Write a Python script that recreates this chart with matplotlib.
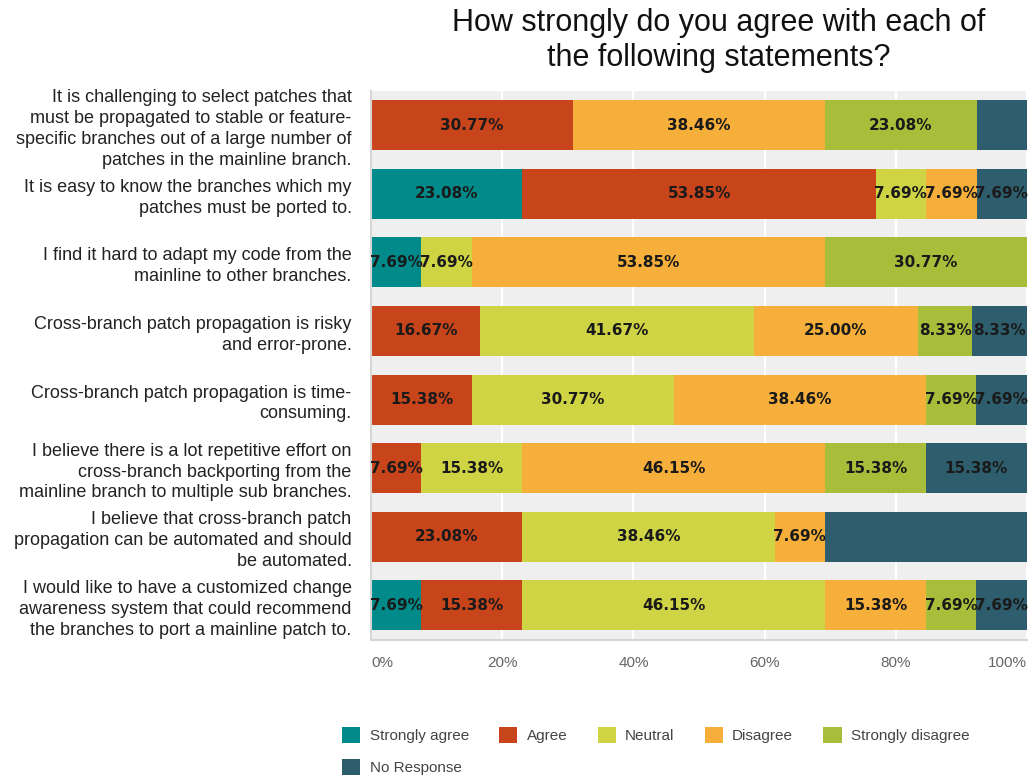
import matplotlib
matplotlib.use("Agg")
import matplotlib.pyplot as plt
from matplotlib.patches import Patch
import numpy as np

# Survey statements (top to bottom)
statements = [
    "It is challenging to select patches that\nmust be propagated to stable or feature-\nspecific branches out of a large number of\npatches in the mainline branch.",
    "It is easy to know the branches which my\npatches must be ported to.",
    "I find it hard to adapt my code from the\nmainline to other branches.",
    "Cross-branch patch propagation is risky\nand error-prone.",
    "Cross-branch patch propagation is time-\nconsuming.",
    "I believe there is a lot repetitive effort on\ncross-branch backporting from the\nmainline branch to multiple sub branches.",
    "I believe that cross-branch patch\npropagation can be automated and should\nbe automated.",
    "I would like to have a customized change\nawareness system that could recommend\nthe branches to port a mainline patch to.",
]

responses = ["Strongly agree", "Agree", "Neutral", "Disagree", "Strongly disagree", "No Response"]

# Percentage of respondents per statement
strongly_agree    = [0.00, 23.08, 7.69, 0.00, 0.00, 0.00, 0.00, 7.69]
agree             = [30.77, 53.85, 0.00, 16.67, 15.38, 7.69, 23.08, 15.38]
neutral           = [0.00, 7.69, 7.69, 41.67, 30.77, 15.38, 38.46, 46.15]
disagree          = [38.46, 7.69, 53.85, 25.00, 38.46, 46.15, 7.69, 15.38]
strongly_disagree = [23.08, 0.00, 30.77, 8.33, 7.69, 15.38, 0.00, 7.69]
no_response       = [7.69, 7.69, 0.00, 8.33, 7.69, 15.38, 30.77, 7.69]

# Segments that carry no value label (statement index, response index)
unlabeled = [(0, 5), (6, 5)]

tick_values = [0, 20, 40, 60, 80, 100]
tick_labels = ["0%", "20%", "40%", "60%", "80%", "100%"]

colors = ["#008a8a", "#c8441b", "#cfd444", "#f6af3a", "#a8be3b", "#2e5e6d"]

series = [strongly_agree, agree, neutral, disagree, strongly_disagree, no_response]

fig = plt.figure(figsize=(10.29, 7.78), dpi=100)
ax = fig.add_axes([371 / 1029, 138.5 / 778, 656 / 1029, 548.5 / 778])
ax.set_facecolor("#efefef")

y = np.arange(len(statements))
left = np.zeros(len(statements))
for si, (vals, col) in enumerate(zip(series, colors)):
    vals = np.array(vals)
    ax.barh(y, vals, left=left, height=0.73, color=col, edgecolor="none",
            label=responses[si], zorder=2)
    for ri, v in enumerate(vals):
        if v > 0 and (ri, si) not in unlabeled:
            ax.text(left[ri] + v / 2, ri, f"{v:.2f}%", ha="center", va="center",
                    fontsize=11, fontweight="bold", color="#1a1a1a",
                    family="DejaVu Sans", zorder=3)
    left += vals

ax.set_xlim(0, 100)
ax.set_ylim(len(statements) - 0.5, -0.5)

ax.set_xticks(tick_values)
ax.set_xticklabels(tick_labels, fontsize=11, color="#666666", family="Liberation Sans")
xt = ax.get_xticklabels()
xt[0].set_horizontalalignment("left")
xt[-1].set_horizontalalignment("right")

ax.set_yticks(y)
ax.set_yticklabels(statements, fontsize=13, color="#222222", family="Liberation Sans",
                   linespacing=1.3, ha="right", multialignment="right")
ax.tick_params(axis="y", length=0, pad=14)
ax.tick_params(axis="x", length=0, pad=12)

ax.xaxis.grid(True, color="white", linewidth=1.6, zorder=1)
ax.set_axisbelow(True)
for s in ["top", "right"]:
    ax.spines[s].set_visible(False)
for s in ["left", "bottom"]:
    ax.spines[s].set_color("#d6d6d6")
    ax.spines[s].set_linewidth(1.5)

fig.text(719 / 1029, 1 - 40.5 / 778,
         "How strongly do you agree with each of\nthe following statements?",
         ha="center", va="center", fontsize=22, color="#111111",
         family="Liberation Sans", linespacing=1.22)

# Legend laid out row by row (matplotlib fills columns first)
order = [0, 5, 1, 2, 3, 4]
handles = [Patch(facecolor=colors[i], edgecolor="none") for i in order]
labels = [responses[i] for i in order]
fig.legend(handles, labels, ncol=5, loc="upper left",
           bbox_to_anchor=(342 / 1029, 1 - 727 / 778), frameon=False,
           prop={"family": "Liberation Sans", "size": 11},
           labelcolor="#444444", handlelength=1.2, handleheight=1.2,
           handletextpad=0.6, columnspacing=1.98, labelspacing=1.05,
           borderpad=0, borderaxespad=0)

fig.savefig("out.png", dpi=100)
